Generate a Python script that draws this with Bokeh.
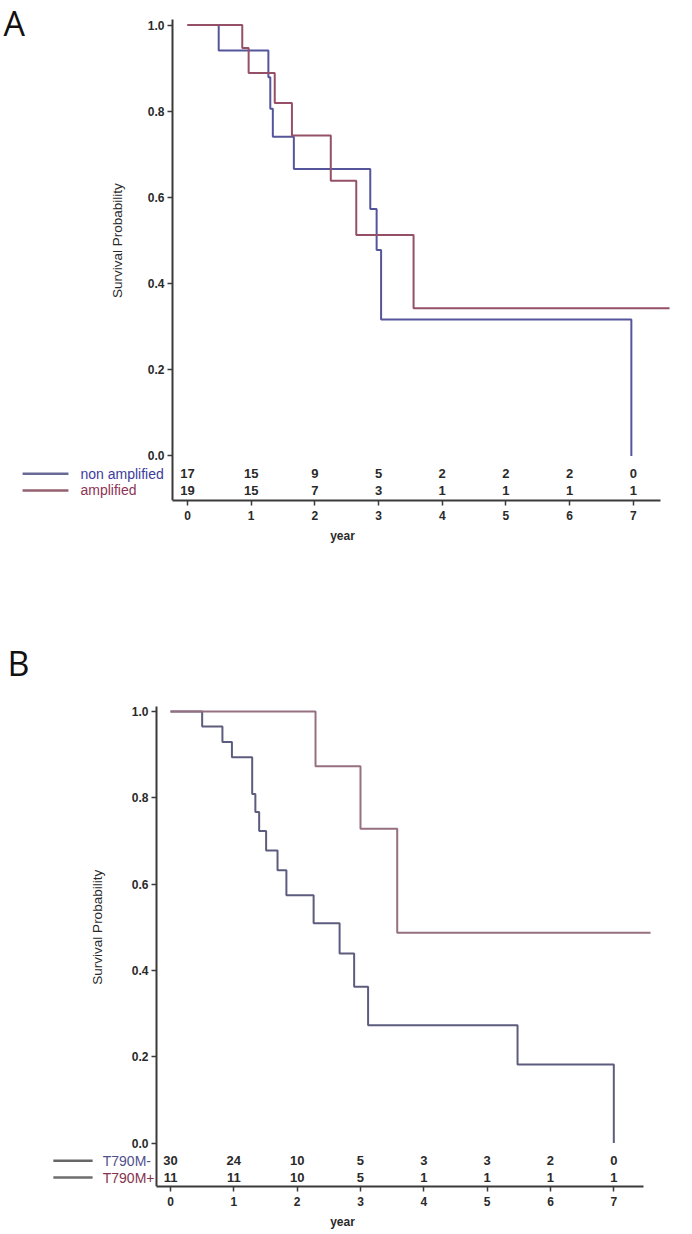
import math
from bokeh.plotting import figure
from bokeh.layouts import column
from bokeh.models import FixedTicker, PrintfTickFormatter, Label, Arrow, Range1d
from bokeh.embed import file_html
from bokeh.resources import INLINE
from bokeh.core.properties import value

# ---------------- data ----------------
years = [0, 1, 2, 3, 4, 5, 6, 7]
y_ticks = [0.0, 0.2, 0.4, 0.6, 0.8, 1.0]

# Panel A
a_non_t = [0, 0.49, 1.27, 1.30, 1.34, 1.67, 2.87, 2.97, 3.04, 6.97]
a_non_s = [1.0, 0.941, 0.879, 0.806, 0.741, 0.666, 0.573, 0.478, 0.317, 0.0]
a_amp_t = [0, 0.86, 0.96, 1.37, 1.64, 2.25, 2.65, 3.55, 7.57]
a_amp_s = [1.0, 0.947, 0.889, 0.819, 0.744, 0.639, 0.513, 0.343, 0.343]
risk_a_non = [17, 15, 9, 5, 2, 2, 2, 0]
risk_a_amp = [19, 15, 7, 3, 1, 1, 1, 1]
names_a = ["non amplified", "amplified"]

# Panel B
b_neg_t = [0, 0.50, 0.82, 0.97, 1.29, 1.34, 1.40, 1.51, 1.69, 1.83, 2.26, 2.67, 2.90, 3.12, 5.48, 7.0]
b_neg_s = [1.0, 0.965, 0.929, 0.894, 0.809, 0.767, 0.723, 0.678, 0.632, 0.574, 0.509, 0.439, 0.362, 0.273, 0.182, 0.0]
b_pos_t = [0, 2.29, 3.0, 3.58, 7.58]
b_pos_s = [1.0, 0.873, 0.728, 0.487, 0.487]
risk_b_neg = [30, 24, 10, 5, 3, 3, 2, 0]
risk_b_pos = [11, 11, 10, 5, 1, 1, 1, 1]
names_b = ["T790M-", "T790M+"]

FONT = "Liberation Sans"
ROW1, ROW2 = -0.041, -0.080
YLABEL = "Survival Probability"
XLABEL = "year"


def make_panel(letter, series, risks, names, text_colors, legend_line_colors,
               xr, yr, frame_h, border_b, yaxis_at, xbounds, ybounds,
               legend_x0, legend_x1, legend_tx, letter_x, letter_y, ylab_x):
    p = figure(output_backend="svg", toolbar_location=None,
               frame_width=684, frame_height=frame_h,
               min_border_left=0, min_border_right=0,
               min_border_top=0, min_border_bottom=border_b,
               x_range=Range1d(*xr), y_range=Range1d(*yr))
    p.outline_line_color = None
    p.xgrid.visible = False
    p.ygrid.visible = False
    p.background_fill_color = "white"
    p.border_fill_color = "white"

    for t, s, c in series:
        p.step(t, s, mode="after", line_color=c, line_width=2)

    for ax in (p.xaxis[0], p.yaxis[0]):
        ax.axis_line_color = "#3a3a3a"
        ax.axis_line_width = 2
        ax.major_tick_line_color = "#3a3a3a"
        ax.major_tick_line_width = 1.5
        ax.major_tick_out = 5
        ax.major_tick_in = 0
        ax.minor_tick_line_color = None
        ax.major_label_text_font = FONT
        ax.major_label_text_font_size = "12px"
        ax.major_label_text_font_style = "bold"
        ax.major_label_text_color = "#2a2a2a"
        ax.axis_label_text_font = FONT
        ax.axis_label_text_font_size = "12px"
        ax.axis_label_text_color = "#2a2a2a"

    p.xaxis.major_label_standoff = 5
    p.yaxis.major_label_standoff = 3
    p.xaxis.ticker = FixedTicker(ticks=years)
    p.yaxis.ticker = FixedTicker(ticks=y_ticks)
    p.yaxis.formatter = PrintfTickFormatter(format="%.1f")
    p.xaxis.bounds = xbounds
    p.yaxis.bounds = ybounds
    p.yaxis.fixed_location = yaxis_at
    p.xaxis.axis_label = XLABEL
    p.xaxis.axis_label_text_font_style = "bold"
    p.xaxis.axis_label_standoff = 6

    # y axis title, centred on the 0..1 probability span
    p.add_layout(Label(x=ylab_x, y=0.5, text=YLABEL, angle=math.pi / 2,
                       text_font=FONT, text_font_size="13.5px", text_color="#2a2a2a",
                       text_align="center", text_baseline="middle"))

    # numbers at risk
    for row_y, vals in ((ROW1, risks[0]), (ROW2, risks[1])):
        p.text(x=years, y=[row_y] * len(years), text=[str(v) for v in vals],
               text_align="center", text_baseline="middle",
               text_font=value(FONT), text_font_size="13px",
               text_font_style="bold", text_color="#2a2a2a")

    # legend to the left of the at-risk table
    for row_y, name, tc, lc in zip((ROW1, ROW2), names, text_colors, legend_line_colors):
        p.add_layout(Arrow(x_start=legend_x0, x_end=legend_x1, y_start=row_y, y_end=row_y,
                           start=None, end=None, line_color=lc, line_width=2.5))
        p.add_layout(Label(x=legend_tx, y=row_y, text=name, text_font=FONT,
                           text_font_size="14px", text_color=tc,
                           text_baseline="middle", text_align="left"))

    p.add_layout(Label(x=letter_x, y=letter_y, text=letter, text_font="Open Sans",
                       text_font_size="34px", text_color="#111111",
                       text_baseline="alphabetic", text_align="left"))
    return p


pA = make_panel(
    "A",
    [(a_non_t, a_non_s, "#55559c"), (a_amp_t, a_amp_s, "#955068")],
    (risk_a_non, risk_a_amp), names_a,
    ("#3c3c9c", "#8e3456"), ("#6a6a96", "#946070"),
    xr=(-2.9366, 7.8046), yr=(-0.1033, 1.0571), frame_h=500, border_b=111,
    yaxis_at=-0.235, xbounds=(-0.235, 7.42), ybounds=(-0.1033, 1.012),
    legend_x0=-2.59, legend_x1=-1.87, legend_tx=-1.68,
    letter_x=-2.889, letter_y=1.006, ylab_x=-1.10)

pB = make_panel(
    "B",
    [(b_neg_t, b_neg_s, "#5c5c7e"), (b_pos_t, b_pos_s, "#967080")],
    (risk_b_neg, risk_b_pos), names_b,
    ("#50508e", "#84344e"), ("#666666", "#6e6e6e"),
    xr=(-2.6843, 8.1162), yr=(-0.1008, 1.2317), frame_h=575, border_b=44,
    yaxis_at=-0.221, xbounds=(-0.221, 7.47), ybounds=(-0.1008, 1.012),
    legend_x0=-1.85, legend_x1=-1.23, legend_tx=-1.07,
    letter_x=-2.574, letter_y=1.113, ylab_x=-1.153)

layout = column(pA, pB, spacing=0)
open("out.html", "w").write(file_html(layout, INLINE))
